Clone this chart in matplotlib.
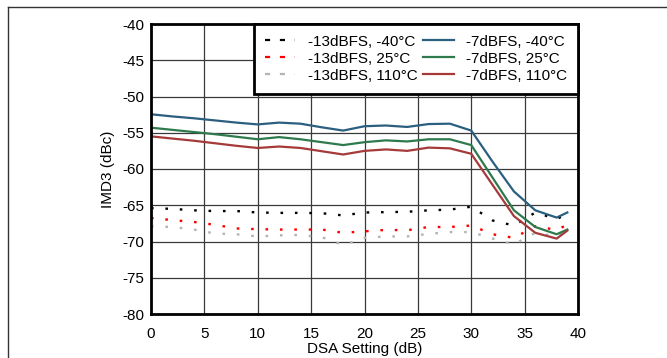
import numpy as np
import matplotlib
matplotlib.use('Agg')
import matplotlib.pyplot as plt
from matplotlib.lines import Line2D

plt.rcParams['font.family'] = ['Liberation Sans', 'DejaVu Sans']
plt.rcParams['axes.unicode_minus'] = False

# DSA setting (dB)
dsa = [0, 2, 4, 6, 8, 10, 12, 14, 16, 18, 20, 22, 24, 26, 28, 30, 32, 34, 36, 38, 39]

# -13 dBFS input
m13_n40 = [-65.4, -65.5, -65.7, -65.8, -65.8, -66.0, -66.05, -66.05, -66.1, -66.4, -66.0, -65.95,
           -65.9, -65.7, -65.6, -65.2, -67.1, -67.8, -66.0, -66.9, -66.2]
m13_25 = [-66.75, -67.05, -67.3, -67.7, -68.2, -68.3, -68.35, -68.35, -68.35, -68.8, -68.6, -68.4,
          -68.45, -68.0, -68.0, -67.8, -69.0, -69.5, -67.9, -68.4, -67.7]
m13_110 = [-67.9, -68.0, -68.35, -68.9, -69.0, -69.3, -69.15, -69.1, -69.4, -70.5, -69.5, -69.3,
           -69.3, -68.95, -68.7, -68.7, -69.6, -70.4, -68.8, -69.3, -68.6]

# -7 dBFS input
m7_n40 = [-52.45, -52.75, -53.0, -53.3, -53.6, -53.85, -53.6, -53.75, -54.25, -54.7, -54.1, -54.0,
          -54.2, -53.8, -53.75, -54.7, -59.0, -63.1, -65.7, -66.7, -66.0]
m7_25 = [-54.3, -54.6, -54.9, -55.2, -55.55, -55.9, -55.6, -55.9, -56.3, -56.7, -56.3, -56.05,
         -56.2, -55.9, -55.9, -56.7, -61.2, -65.7, -68.0, -69.0, -68.35]
m7_110 = [-55.5, -55.8, -56.1, -56.45, -56.8, -57.1, -56.9, -57.1, -57.55, -58.0, -57.5, -57.3,
          -57.5, -57.05, -57.15, -57.9, -62.2, -66.5, -68.8, -69.6, -68.5]

labels_13 = ['-13dBFS, -40°C', '-13dBFS, 25°C', '-13dBFS, 110°C']
labels_7 = ['-7dBFS, -40°C', '-7dBFS, 25°C', '-7dBFS, 110°C']

fig = plt.figure(figsize=(6.67, 3.58), dpi=100)
ax = fig.add_axes([151 / 667, 1 - 314 / 358, 427 / 667, 290 / 358])

dot_cols = ['#000000', '#ff0000', '#b4b4b4']
line_cols = ['#2b5f80', '#2e7a4c', '#a63a3a']

handles = []
for y, lab, c in zip([m13_n40, m13_25, m13_110], labels_13, dot_cols):
    ax.plot(dsa, y, color=c, lw=1.7, dashes=(1.1, 5.0))
    handles.append(Line2D([], [], color=c, lw=1.6, dashes=(2.3, 4.4), label=lab))
for y, lab, c in zip([m7_n40, m7_25, m7_110], labels_7, line_cols):
    ax.plot(dsa, y, color=c, lw=1.6)
    handles.append(Line2D([], [], color=c, lw=1.6, label=lab))

ax.set_xlim(0, 40)
ax.set_ylim(-80, -40)
ax.set_xticks(np.arange(0, 41, 5))
ax.set_yticks(np.arange(-80, -39, 5))
ax.grid(True, color='#3a3a3a', lw=0.9)
ax.set_axisbelow(True)
for s in ax.spines.values():
    s.set_linewidth(2.0)
ax.tick_params(length=0, labelsize=11)
ax.tick_params(axis='y', pad=5)
ax.tick_params(axis='x', pad=9)
ax.set_xlabel('DSA Setting (dB)', fontsize=11, labelpad=1)
ax.set_ylabel('IMD3 (dBc)', fontsize=11, labelpad=5)

leg = ax.legend(handles=handles, ncol=2, loc='upper right', bbox_to_anchor=(1, 1), borderaxespad=0,
                fontsize=11, fancybox=False, framealpha=1, edgecolor='black',
                handlelength=2.0, handletextpad=0.8, columnspacing=0.4,
                labelspacing=0.2, borderpad=0.7)
leg.get_frame().set_linewidth(2.0)

# outer frame lines
fig.add_artist(Line2D([8 / 667, 1], [1 - 7 / 358, 1 - 7 / 358], color='#333333', lw=1,
                      transform=fig.transFigure))
fig.add_artist(Line2D([8 / 667, 8 / 667], [0, 1 - 7 / 358], color='#333333', lw=1,
                      transform=fig.transFigure))

plt.savefig('out.png', dpi=100)
